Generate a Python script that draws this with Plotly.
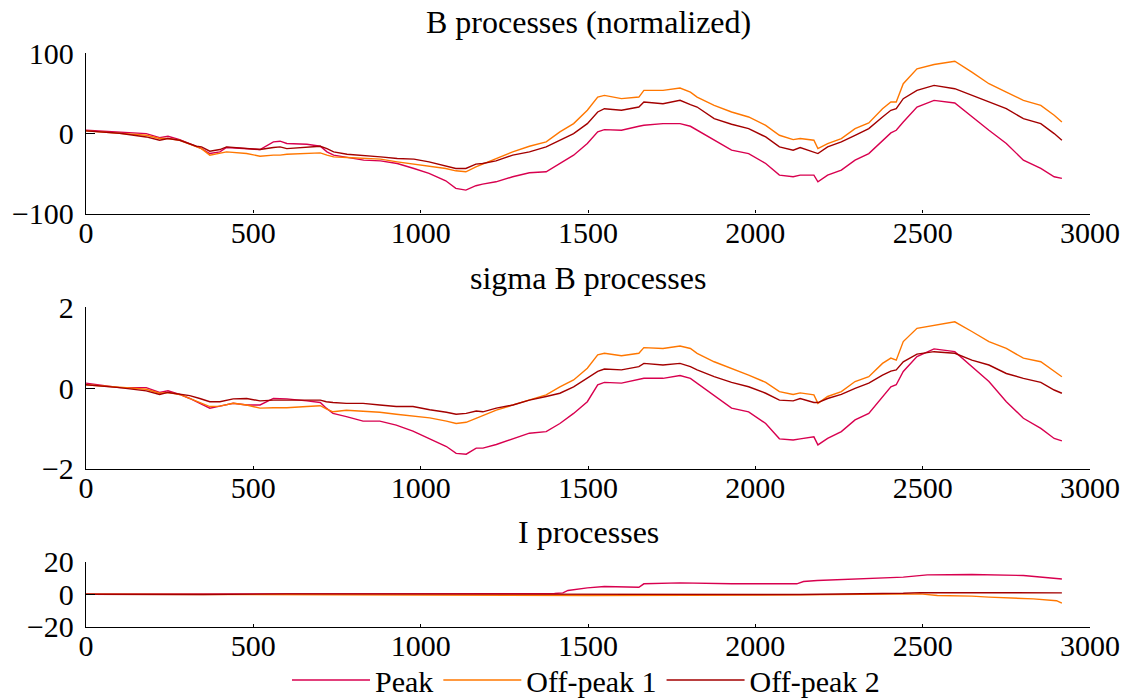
import plotly.graph_objects as go

# ---------------- data ----------------
SERIES = ["Peak", "Off-peak 1", "Off-peak 2"]
COLORS = ["#d8004f", "#ff7700", "#a30000"]

# Panel 1: B processes (normalized)
x_b = [0, 100, 180, 220, 245, 280, 330, 345, 370, 400, 420, 480, 520, 560, 580, 600,
       660, 700, 720, 740, 780, 830, 880, 930, 980, 1025, 1075, 1105, 1135, 1165, 1185,
       1225, 1275, 1325, 1375, 1416, 1457, 1498, 1529, 1549, 1600, 1652, 1667, 1724,
       1775, 1806, 1826, 1877, 1929, 1980, 2031, 2072, 2113, 2134, 2175, 2187, 2216,
       2257, 2298, 2339, 2380, 2405, 2421, 2442, 2483, 2534, 2596, 2647, 2698, 2750,
       2801, 2853, 2893, 2916]
b_peak = [3.7, 1.7, -0.4, -5.4, -3.7, -7.9, -17.0, -19.1, -25.3, -23.2, -17.8, -19.1,
          -20.3, -10.8, -9.9, -12.8, -13.7, -16.2, -23.2, -27.3, -30.2, -33.5, -34.4,
          -37.7, -43.9, -50.1, -59.2, -68.7, -70.8, -65.4, -63.4, -60.5, -54.2, -49.3,
          -48.0, -37.7, -27.3, -12.8, 1.7, 4.5, 3.7, 8.7, 9.9, 12.0, 12.0, 8.7, 3.7,
          -8.7, -21.1, -25.3, -37.7, -52.2, -54.2, -52.2, -52.2, -60.5, -52.2, -45.9,
          -33.5, -25.3, -8.7, 0.4, 3.7, 14.1, 32.7, 41.0, 37.7, 20.3, 3.7, -12.8, -33.5,
          -43.9, -54.2, -56.3]
b_off1 = [2.9, 0.4, -2.5, -6.6, -6.6, -8.7, -17.0, -19.1, -27.3, -25.3, -23.2, -25.3,
          -28.6, -27.3, -27.3, -26.1, -25.3, -24.4, -27.3, -29.4, -30.2, -31.5, -32.3,
          -35.6, -38.5, -41.0, -43.9, -46.8, -48.0, -41.8, -38.5, -31.5, -23.2, -16.2,
          -10.8, 1.7, 12.0, 28.6, 45.1, 47.2, 43.1, 45.1, 53.4, 53.4, 56.3, 51.3, 45.1,
          34.8, 26.5, 20.3, 9.9, -2.5, -7.9, -6.6, -8.7, -19.1, -12.8, -6.6, 5.8, 12.8,
          30.6, 38.9, 38.9, 61.7, 80.3, 85.7, 89.8, 76.2, 61.7, 51.3, 41.0, 34.8, 22.4,
          14.1]
b_off2 = [2.9, 0.0, -4.6, -8.7, -6.6, -8.7, -16.2, -17.0, -22.4, -20.3, -17.0, -19.1,
          -20.3, -17.8, -17.0, -19.1, -17.8, -16.2, -19.1, -23.2, -26.1, -27.3, -29.4,
          -31.5, -32.3, -35.6, -41.0, -43.9, -43.9, -38.5, -37.7, -34.4, -27.3, -23.2,
          -17.0, -8.7, -0.4, 12.0, 26.5, 30.6, 28.6, 32.7, 38.9, 36.8, 41.0, 35.6, 32.7,
          18.2, 11.2, 5.8, -4.6, -17.0, -21.1, -17.8, -23.2, -25.3, -17.0, -10.8, -2.5,
          5.8, 20.3, 28.6, 30.6, 43.1, 53.4, 59.6, 55.5, 47.2, 38.9, 30.6, 18.2, 12.0,
          -0.4, -8.7]

# Panel 2: sigma B processes
x_s = [0, 100, 180, 220, 245, 280, 310, 340, 370, 400, 440, 480, 520, 560, 600, 660,
       700, 718, 738, 778, 828, 878, 927, 977, 1027, 1077, 1106, 1136, 1166, 1186, 1226,
       1276, 1325, 1375, 1416, 1457, 1498, 1529, 1549, 1600, 1652, 1667, 1724, 1775,
       1806, 1826, 1877, 1929, 1980, 2031, 2072, 2113, 2134, 2175, 2187, 2216, 2257,
       2298, 2339, 2380, 2405, 2421, 2442, 2483, 2534, 2596, 2647, 2698, 2750, 2801,
       2853, 2893, 2916]
s_peak = [0.12, 0.01, 0.01, -0.11, -0.07, -0.16, -0.26, -0.38, -0.50, -0.45, -0.38,
          -0.42, -0.42, -0.26, -0.27, -0.32, -0.36, -0.50, -0.63, -0.71, -0.82, -0.82,
          -0.92, -1.07, -1.25, -1.45, -1.62, -1.64, -1.49, -1.49, -1.40, -1.25, -1.12,
          -1.08, -0.88, -0.63, -0.34, 0.08, 0.14, 0.12, 0.20, 0.24, 0.24, 0.31, 0.24,
          0.12, -0.17, -0.50, -0.59, -0.88, -1.26, -1.29, -1.26, -1.21, -1.41, -1.25,
          -1.08, -0.79, -0.63, -0.21, 0.03, 0.08, 0.41, 0.78, 0.97, 0.90, 0.53, 0.16,
          -0.34, -0.75, -1.00, -1.25, -1.31]
s_off1 = [0.08, 0.01, -0.03, -0.13, -0.11, -0.16, -0.26, -0.36, -0.46, -0.45, -0.38,
          -0.42, -0.50, -0.49, -0.49, -0.46, -0.44, -0.52, -0.59, -0.55, -0.57, -0.60,
          -0.65, -0.69, -0.74, -0.82, -0.88, -0.85, -0.75, -0.69, -0.55, -0.42, -0.30,
          -0.17, 0.03, 0.20, 0.49, 0.82, 0.86, 0.80, 0.86, 1.00, 0.98, 1.04, 0.98, 0.86,
          0.65, 0.49, 0.32, 0.14, -0.09, -0.16, -0.12, -0.17, -0.38, -0.21, -0.09, 0.16,
          0.28, 0.61, 0.74, 0.69, 1.15, 1.48, 1.56, 1.64, 1.40, 1.15, 0.98, 0.74, 0.65,
          0.41, 0.28]
s_off2 = [0.08, 0.01, -0.07, -0.16, -0.11, -0.16, -0.19, -0.26, -0.34, -0.34, -0.27,
          -0.26, -0.32, -0.30, -0.30, -0.30, -0.30, -0.34, -0.36, -0.38, -0.38, -0.42,
          -0.46, -0.46, -0.54, -0.60, -0.65, -0.63, -0.57, -0.59, -0.50, -0.42, -0.30,
          -0.21, -0.13, 0.03, 0.24, 0.41, 0.47, 0.45, 0.53, 0.61, 0.57, 0.61, 0.53, 0.45,
          0.28, 0.14, 0.03, -0.13, -0.30, -0.32, -0.26, -0.36, -0.36, -0.26, -0.16, -0.01,
          0.12, 0.32, 0.42, 0.45, 0.65, 0.84, 0.90, 0.86, 0.69, 0.57, 0.36, 0.24, 0.14,
          -0.05, -0.13]

# Panel 3: I processes
i_peak_x = [0, 300, 600, 900, 1200, 1400, 1425, 1440, 1498, 1549, 1652, 1667, 1775,
            1929, 2124, 2144, 2185, 2339, 2442, 2514, 2647, 2801, 2916]
i_peak = [0.0, 0.0, 0.2, 0.1, 0.2, 0.4, 0.8, 2.3, 3.9, 4.7, 4.3, 6.4, 7.0, 6.4, 6.4,
          7.8, 8.4, 9.4, 10.5, 11.9, 12.1, 11.5, 9.4]
i_off1_x = [0, 500, 1000, 1200, 1500, 1800, 2100, 2144, 2493, 2544, 2647, 2698, 2831,
            2900, 2916]
i_off1 = [0.0, -0.3, -0.8, -1.0, -0.8, -0.6, -0.8, -0.4, 0.2, -0.8, -1.2, -1.8, -2.9,
          -4.0, -5.5]
i_off2_x = [0, 350, 600, 900, 1200, 1500, 2134, 2442, 2493, 2916]
i_off2 = [0.0, -0.2, 0.2, 0.1, 0.2, 0.2, -0.2, 0.6, 1.0, 0.8]

TITLES = ["B processes (normalized)", "sigma B processes", "I processes"]
Y_RANGES = [[-100, 100], [-2, 2], [-20, 20]]
Y_TICKS = [[-100, 0, 100], [-2, 0, 2], [-20, 0, 20]]
X_TICKS = [0, 500, 1000, 1500, 2000, 2500, 3000]

# ---------------- figure ----------------
W, H = 1130, 698
FONT = "'Liberation Serif', 'Times New Roman', Times, serif"
FS = 30

def px_x(p):
    return p / W

def px_y(p):
    return 1 - p / H

x_dom = [px_x(86), px_x(1090)]
y_doms = [[px_y(213.5), px_y(53)], [px_y(468.7), px_y(307.3)], [px_y(626.7), px_y(561.7)]]
title_y = [px_y(22), px_y(278), px_y(532)]

fig = go.Figure()

panels = [
    [(x_b, b_peak), (x_b, b_off1), (x_b, b_off2)],
    [(x_s, s_peak), (x_s, s_off1), (x_s, s_off2)],
    [(i_peak_x, i_peak), (i_off1_x, i_off1), (i_off2_x, i_off2)],
]

for pi, panel in enumerate(panels):
    xa = "x" if pi == 0 else f"x{pi+1}"
    ya = "y" if pi == 0 else f"y{pi+1}"
    for si, (xs, ys) in enumerate(panel):
        fig.add_trace(go.Scatter(
            x=xs, y=ys, mode="lines", name=SERIES[si],
            line=dict(color=COLORS[si], width=1.4),
            xaxis=xa, yaxis=ya,
            showlegend=(pi == 0),
        ))

layout = dict(
    width=W, height=H,
    margin=dict(l=0, r=0, t=0, b=0, autoexpand=False),
    paper_bgcolor="white", plot_bgcolor="white",
    font=dict(family=FONT, size=FS, color="black"),
    showlegend=True,
    legend=dict(
        orientation="h", x=px_x(586), xanchor="center", y=px_y(680), yanchor="middle",
        itemwidth=78, font=dict(size=FS, family=FONT), bgcolor="rgba(0,0,0,0)",
        tracegroupgap=0, itemclick=False,
    ),
    annotations=[],
)

for pi in range(3):
    xk = "xaxis" if pi == 0 else f"xaxis{pi+1}"
    yk = "yaxis" if pi == 0 else f"yaxis{pi+1}"
    ya = "y" if pi == 0 else f"y{pi+1}"
    xa = "x" if pi == 0 else f"x{pi+1}"
    layout[xk] = dict(
        domain=x_dom, range=[0, 3000], anchor=ya,
        tickvals=X_TICKS, ticktext=[str(v) for v in X_TICKS],
        showline=True, linecolor="black", linewidth=1.3,
        ticks="inside", ticklen=3, tickcolor="black", tickwidth=1.3,
        showgrid=False, zeroline=False, ticklabelstandoff=-8,
        tickfont=dict(size=FS, family=FONT),
    )
    layout[yk] = dict(
        domain=y_doms[pi], range=Y_RANGES[pi], anchor=xa,
        tickvals=Y_TICKS[pi],
        showline=True, linecolor="black", linewidth=1.3,
        ticks="inside", ticklen=9, tickcolor="black", tickwidth=1.3,
        showgrid=False, zeroline=False, ticklabelstandoff=5,
        tickfont=dict(size=FS, family=FONT),
    )
    layout["annotations"].append(dict(
        text=TITLES[pi], xref="paper", yref="paper",
        x=px_x(588), y=title_y[pi], xanchor="center", yanchor="middle",
        showarrow=False, font=dict(size=FS + 2, family=FONT, color="black"),
    ))

fig.update_layout(**layout)
fig.write_html("out.html")
